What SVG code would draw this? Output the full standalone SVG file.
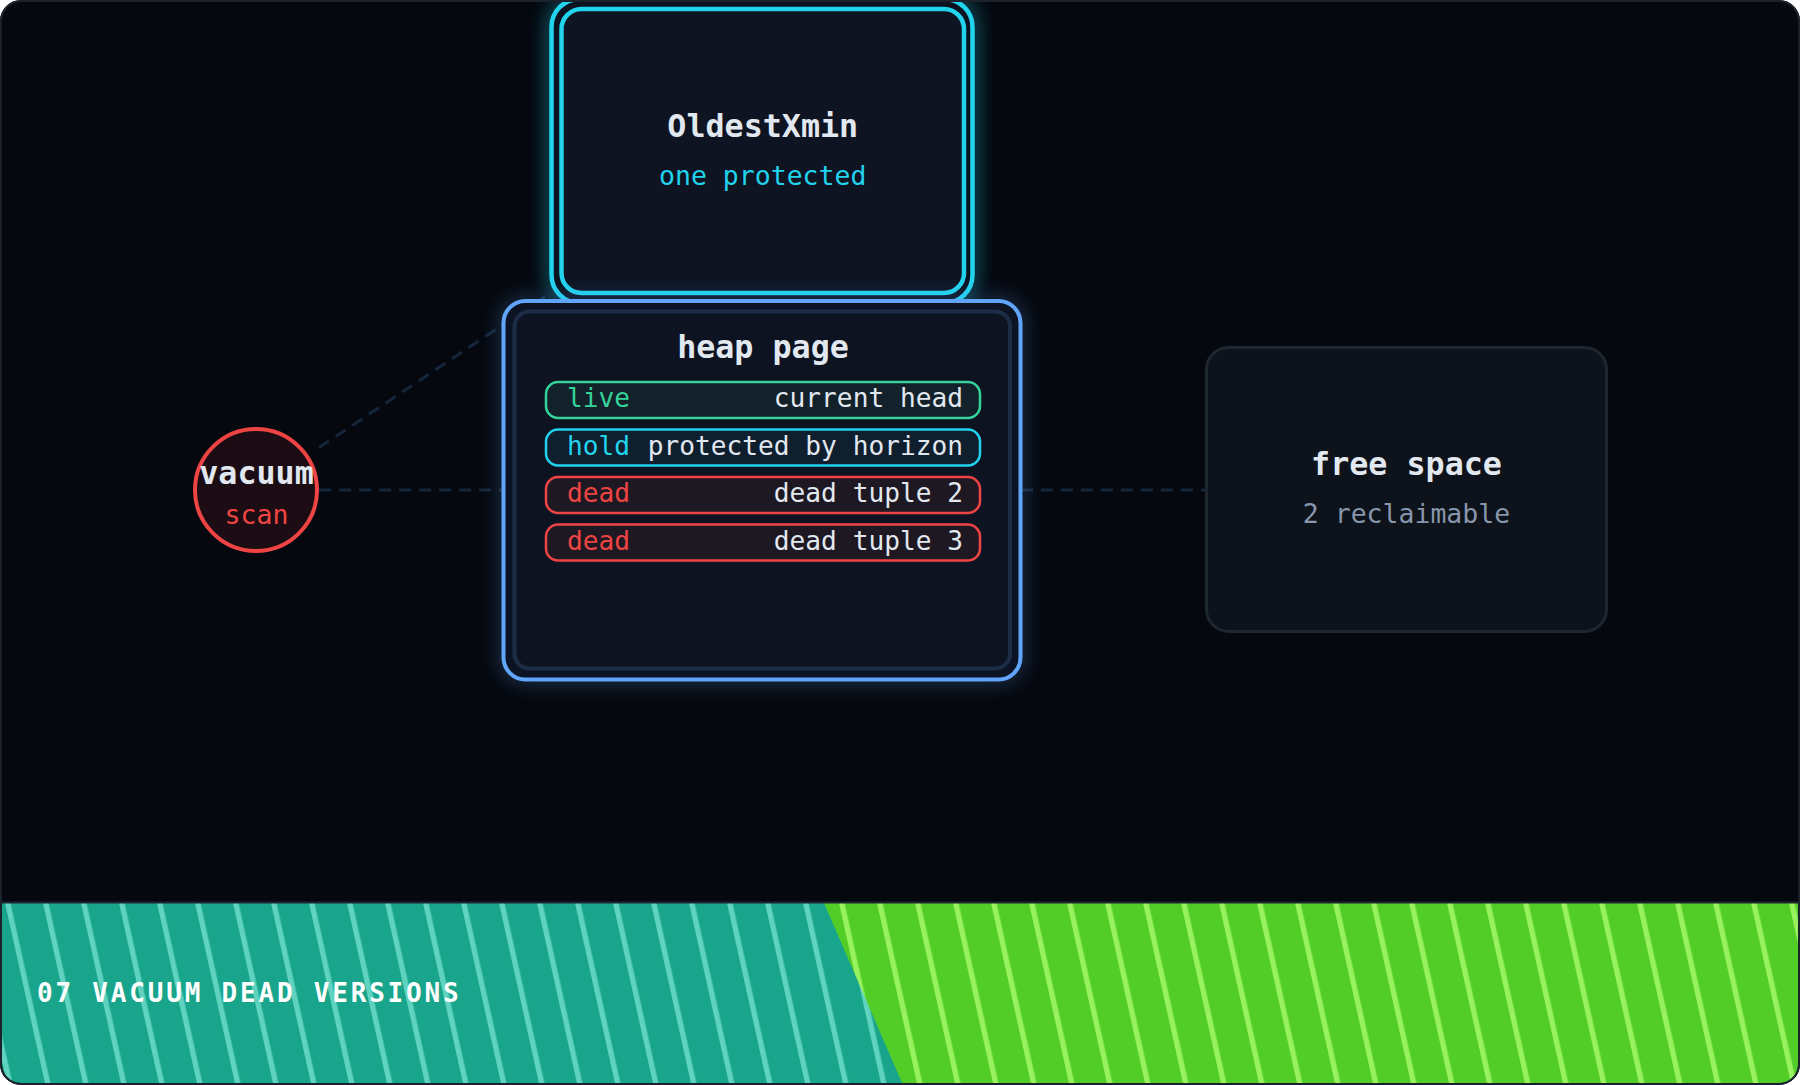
<svg xmlns="http://www.w3.org/2000/svg" width="1800" height="1085" viewBox="0 0 1800 1085">
  <style>
    .title { font-family: "DejaVu Sans Mono", "Liberation Mono", monospace; font-weight: bold; font-size: 31.7px; fill: #e2e8f0; text-anchor: middle; }
    .sub { font-family: "DejaVu Sans Mono", "Liberation Mono", monospace; font-size: 26.5px; text-anchor: middle; }
    .row { font-family: "DejaVu Sans Mono", "Liberation Mono", monospace; font-size: 26.2px; }
    .rowL { text-anchor: start; }
    .rowR { text-anchor: end; fill: #e2e8f0; }
    .conn { fill: none; stroke: #15263b; stroke-width: 3; stroke-dasharray: 12 8; }
    .banner { font-family: "DejaVu Sans Mono", "Liberation Mono", monospace; font-weight: bold; font-size: 26px; fill: #ffffff; letter-spacing: 2.8px; }
  </style>
  <defs>
    <clipPath id="frameClip">
      <rect x="2" y="2" width="1796" height="1081" rx="19"/>
    </clipPath>
    <pattern id="tealStripes" patternUnits="userSpaceOnUse" width="38" height="200" patternTransform="translate(5,903) skewX(12.5)">
      <rect width="38" height="200" fill="#18a58b"/>
      <rect x="0" width="5.5" height="200" fill="#5fd3bf"/>
    </pattern>
    <pattern id="greenStripes" patternUnits="userSpaceOnUse" width="38" height="200" patternTransform="translate(3,903) skewX(12.5)">
      <rect width="38" height="200" fill="#52cd28"/>
      <rect x="0" width="5.5" height="200" fill="#98f25e"/>
    </pattern>
    <filter id="blur" x="-30%" y="-30%" width="160%" height="160%">
      <feGaussianBlur stdDeviation="9"/>
    </filter>
  </defs>

  <rect x="1" y="1" width="1798" height="1083" rx="20" fill="#05080f" stroke="#1c222c" stroke-width="2"/>

  <g id="connectors">
    <path class="conn" d="M319 447.6 L551 292.6"/>
    <path class="conn" d="M319 490 L503 490"/>
    <path class="conn" d="M1021 490 L1205 490"/>
  </g>

  <g id="node-vacuum">
    <circle cx="256" cy="490" r="61" fill="#1b0d13" stroke="#ef4444" stroke-width="4"/>
    <text class="title" x="256.5" y="484">vacuum</text>
    <text class="sub" x="256.5" y="524" fill="#ef4444">scan</text>
  </g>

  <g id="node-oldestxmin">
    <rect x="551.5" y="-1" width="421" height="304" rx="28" fill="none" stroke="#22d3ee" stroke-width="8" opacity="0.6" filter="url(#blur)"/>
    <rect x="551.5" y="-1" width="421" height="304" rx="28" fill="#0b1220" stroke="#22d3ee" stroke-width="4.5"/>
    <rect x="561.5" y="9" width="402.5" height="284" rx="20" fill="#0e1422" stroke="#22d3ee" stroke-width="4.5"/>
    <text class="title" x="762.75" y="137">OldestXmin</text>
    <text class="sub" x="762.75" y="185" fill="#22d3ee">one protected</text>
  </g>

  <g id="node-heap-page">
    <rect x="503.5" y="301" width="517" height="378.5" rx="22" fill="none" stroke="#60a5fa" stroke-width="6" opacity="0.5" filter="url(#blur)"/>
    <rect x="503.5" y="301" width="517" height="378.5" rx="22" fill="#0c1424" stroke="#60a5fa" stroke-width="4"/>
    <rect x="514.5" y="311.5" width="495.5" height="357" rx="15" fill="#0d1321" stroke="#1d2c47" stroke-width="4"/>
    <text class="title" x="763" y="358">heap page</text>

    <rect x="546" y="382" width="434" height="36" rx="12" fill="#12212a" stroke="#34d399" stroke-width="2.5"/>
    <text class="row rowL" x="567" y="407" fill="#34d399">live</text>
    <text class="row rowR" x="963" y="407">current head</text>

    <rect x="546" y="429.5" width="434" height="36" rx="12" fill="#0f1f2e" stroke="#22d3ee" stroke-width="2.5"/>
    <text class="row rowL" x="567" y="454.5" fill="#22d3ee">hold</text>
    <text class="row rowR" x="963" y="454.5">protected by horizon</text>

    <rect x="546" y="477" width="434" height="36" rx="12" fill="#1e1822" stroke="#ef4444" stroke-width="2.5"/>
    <text class="row rowL" x="567" y="502" fill="#ef4444">dead</text>
    <text class="row rowR" x="963" y="502">dead tuple 2</text>

    <rect x="546" y="524.5" width="434" height="36" rx="12" fill="#1e1822" stroke="#ef4444" stroke-width="2.5"/>
    <text class="row rowL" x="567" y="549.5" fill="#ef4444">dead</text>
    <text class="row rowR" x="963" y="549.5">dead tuple 3</text>
  </g>

  <g id="node-free-space">
    <rect x="1206.5" y="347.5" width="400" height="284" rx="22" fill="#0e121a" stroke="#1e2630" stroke-width="3"/>
    <text class="title" x="1406.5" y="475">free space</text>
    <text class="sub" x="1406.5" y="523" fill="#8796ab">2 reclaimable</text>
  </g>

  <g id="banner" clip-path="url(#frameClip)">
    <rect x="0" y="903" width="1800" height="182" fill="url(#tealStripes)"/>
    <polygon points="824,903 1800,903 1800,1085 903,1085" fill="url(#greenStripes)"/>
    <line x1="0" y1="902.5" x2="1800" y2="902.5" stroke="#1f2631" stroke-width="2"/>
    <text class="banner" x="37" y="1002">07 VACUUM DEAD VERSIONS</text>
  </g>
  <rect x="1" y="1" width="1798" height="1083" rx="20" fill="none" stroke="#1c222c" stroke-width="2"/>
</svg>
